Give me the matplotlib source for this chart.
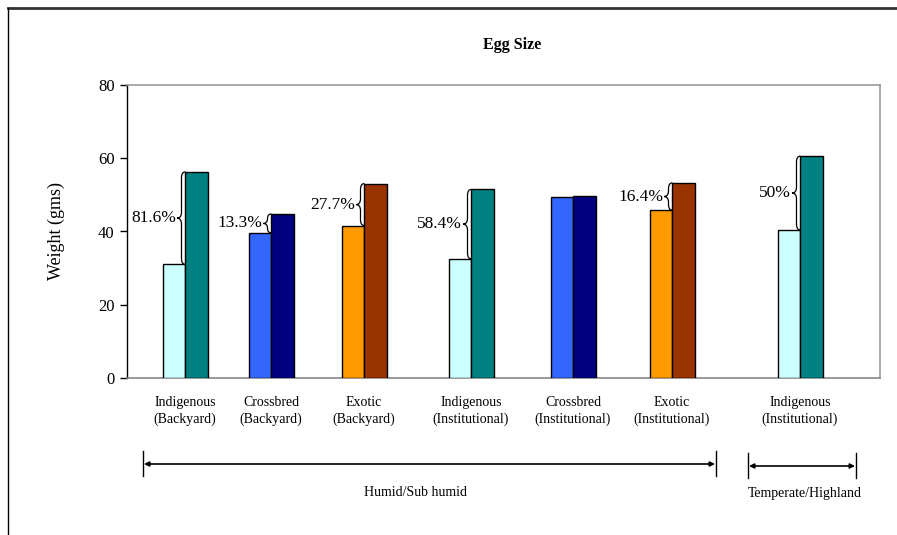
import matplotlib
matplotlib.use("Agg")
import matplotlib.pyplot as plt
from matplotlib.path import Path
from matplotlib.patches import PathPatch
from matplotlib.lines import Line2D
import numpy as np

plt.rcParams['font.family'] = ['Liberation Serif', 'DejaVu Serif']

# ---- data ----
categories = ["Indigenous\n(Backyard)", "Crossbred\n(Backyard)", "Exotic\n(Backyard)",
              "Indigenous\n(Institutional)", "Crossbred\n(Institutional)", "Exotic\n(Institutional)",
              "Indigenous\n(Institutional)"]
low_values = [31.0, 39.6, 41.6, 32.5, 49.3, 45.8, 40.4]
high_values = [56.3, 44.8, 53.1, 51.5, 49.6, 53.3, 60.6]
pct_labels = ["81.6%", "13.3%", "27.7%", "58.4%", None, "16.4%", "50%"]
low_colors = ["#CCFFFF", "#3366FF", "#FF9900", "#CCFFFF", "#3366FF", "#FF9900", "#CCFFFF"]
high_colors = ["#008080", "#000080", "#993300", "#008080", "#000080", "#993300", "#008080"]
yticks = [0, 20, 40, 60, 80]
regions = ["Humid/Sub humid", "Temperate/Highland"]

# group centres along the x axis (axis units ~ pixels from the left spine)
group_x = [58, 144, 237, 344, 446, 545, 673]
bar_w = 22.5
W, H = 897, 535

fig = plt.figure(figsize=(W / 100, H / 100), dpi=100)
ax = fig.add_axes([127 / W, (H - 378) / H, (880 - 127) / W, (378 - 85) / H])
ax.set_xlim(0, 753)
ax.set_ylim(0, 80)

gx = np.array(group_x, dtype=float)
ax.bar(gx - bar_w / 2, low_values, width=bar_w, color=low_colors, edgecolor="black", linewidth=1.0, zorder=3)
ax.bar(gx + bar_w / 2, high_values, width=bar_w, color=high_colors, edgecolor="black", linewidth=1.0, zorder=3)


def brace(ax, x, y0, y1):
    """Curly brace opening to the right, spanning y0..y1 at x."""
    ppu = (378 - 85) / 80.0
    d = min(6 / ppu, (y1 - y0) / 4)
    xr, xv, xl = x + 1.5, x - 2.5, x - 7
    mid = (y0 + y1) / 2
    verts = [(xr, y1), (xv, y1), (xv, y1 - d),
             (xv, mid + d), (xv, mid), (xl, mid),
             (xv, mid), (xv, mid - d),
             (xv, y0 + d), (xv, y0), (xr, y0)]
    codes = [Path.MOVETO, Path.CURVE3, Path.CURVE3,
             Path.LINETO, Path.CURVE3, Path.CURVE3,
             Path.CURVE3, Path.CURVE3,
             Path.LINETO, Path.CURVE3, Path.CURVE3]
    ax.add_patch(PathPatch(Path(verts, codes), fill=False, lw=0.9, color="black", zorder=4, clip_on=False))
    return xl, mid


for x, lo, hi, lab in zip(gx, low_values, high_values, pct_labels):
    if lab is None:
        continue
    xl, mid = brace(ax, x - 1, lo, hi)
    ax.text(xl - 1, mid, lab, ha="right", va="center", fontsize=12.5, zorder=5)

# axes styling
for s in ["top", "right"]:
    ax.spines[s].set_color("#999999")
    ax.spines[s].set_linewidth(1.2)
ax.spines["bottom"].set_color("#888888")
ax.spines["bottom"].set_linewidth(1.2)
ax.spines["left"].set_color("black")
ax.spines["left"].set_linewidth(1.0)
ax.set_yticks(yticks)
ax.set_yticklabels([str(v) for v in yticks], fontsize=12)
ax.tick_params(axis="y", direction="out", length=5, width=1, pad=4)
ax.set_xticks(gx)
ax.set_xticklabels(categories, fontsize=10, linespacing=1.35)
ax.tick_params(axis="x", length=0, pad=13)
ax.set_ylabel("Weight (gms)", fontsize=13, labelpad=24)

fig.text(512 / W, 1 - 45 / H, "Egg Size", ha="center", va="center", fontsize=11.5, fontweight="bold")


def fy(py):
    return 1 - py / H


def fx(px):
    return px / W


# region spans below the categories
spans = [(143, 716, 464, 415, 492), (748, 856, 466, 805, 493)]
for (x0, x1, y, tx, ty), name in zip(spans, regions):
    fig.add_artist(Line2D([fx(x0), fx(x0)], [fy(y - 13), fy(y + 12)], color="black", lw=1))
    fig.add_artist(Line2D([fx(x1), fx(x1)], [fy(y - 13), fy(y + 12)], color="black", lw=1))
    ax.annotate("", xy=(fx(x1 - 1), fy(y)), xytext=(fx(x0 + 1), fy(y)),
                xycoords="figure fraction", textcoords="figure fraction",
                arrowprops=dict(arrowstyle="<|-|>", color="black", lw=1.2,
                                mutation_scale=7, shrinkA=0, shrinkB=0))
    fig.text(fx(tx), fy(ty), name, ha="center", va="center", fontsize=10)

# outer frame edges
fig.add_artist(Line2D([fx(8), 1], [fy(8), fy(8)], color="#333333", lw=2))
fig.add_artist(Line2D([fx(8), fx(8)], [fy(8), 0], color="black", lw=1))

fig.savefig("out.png", dpi=100)
